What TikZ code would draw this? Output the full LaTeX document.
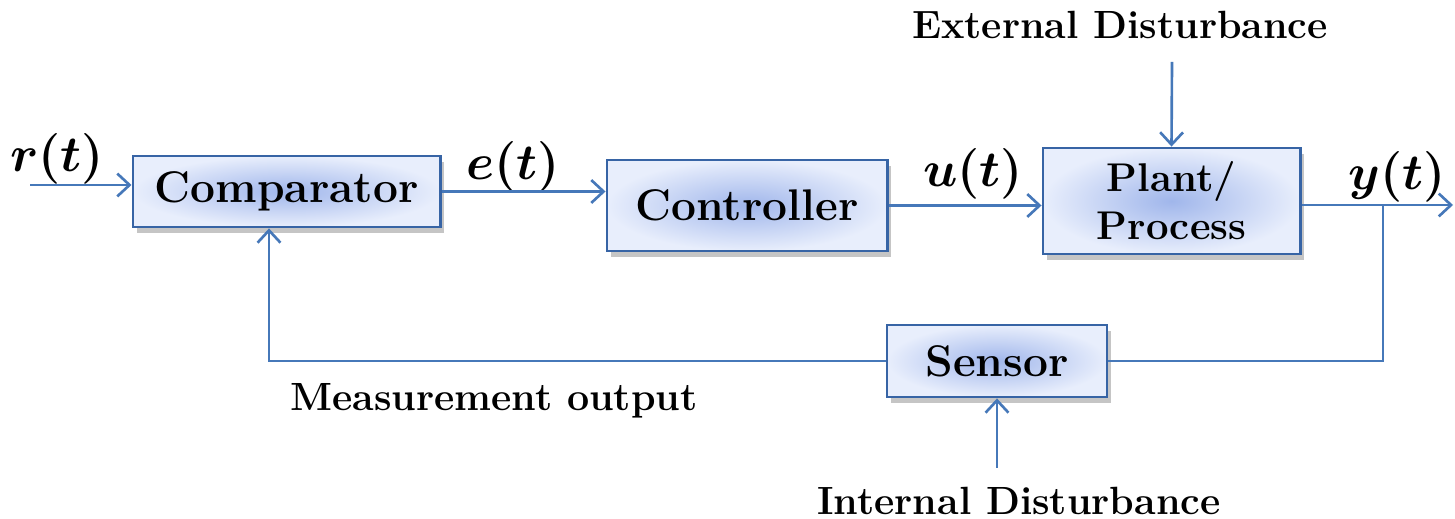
\documentclass[tikz,border=0pt]{standalone}
\usepackage{bm}
\usepackage{tikz}
\usetikzlibrary{shadows,arrows.meta}
\definecolor{lineblue}{RGB}{70,120,185}
\definecolor{boxedge}{RGB}{55,100,165}
\definecolor{boxin}{RGB}{160,182,235}
\definecolor{boxout}{RGB}{232,238,252}
\tikzset{
  blockbox/.style={draw=boxedge, line width=0.8pt, inner sep=0pt, align=center,
    inner color=boxin, outer color=boxout,
    drop shadow={shadow xshift=1.2pt, shadow yshift=-1.6pt, fill=black!45, opacity=0.5},
    font=\bfseries\fontsize{12.6}{14}\selectfont},
  sig/.style={draw=lineblue, line width=0.75pt, -{Straight Barb[length=3.5pt,width=6.5pt]}},
  wire/.style={draw=lineblue, line width=0.75pt},
  lbl/.style={font=\bfseries\fontsize{11.2}{13}\selectfont},
  mathlbl/.style={anchor=base, font=\fontsize{14}{16}\selectfont}
}

\begin{document}
\begin{tikzpicture}[x=0.01cm, y=-0.01cm]
			%%%%% FRAME %%%%%
			\useasboundingbox[fill=white] (0, 0) rectangle (1455, 519);
			
			%%%%% BLOCKS %%%%%
			\node[blockbox, minimum width=3.07cm, minimum height=0.71cm] (comp) at (286.5, 191.5) {Comparator};
			\node[blockbox, minimum width=2.80cm, minimum height=0.91cm] (ctrl) at (747, 205.5) {Controller};
			\node[blockbox, minimum width=2.57cm, minimum height=1.06cm,
			      font=\bfseries\fontsize{11.4}{13.7}\selectfont] (plant) at (1171.5, 201) {Plant/\\Process};
			\node[blockbox, minimum width=2.20cm, minimum height=0.72cm] (sens) at (997, 361) {Sensor};
			
			%%%%% TEXTS %%%%%
			\node[lbl] (extlbl) at (1120, 25) {External Disturbance};
			\node[lbl] (intlbl) at (1019, 501) {Internal Disturbance};
			\node[lbl] (measlbl) at (494, 401) {Measurement output};
			\node[mathlbl] (rlbl) at (57, 172) {$\bm{r(t)}$};
			\node[mathlbl] (elbl) at (513, 180) {$\bm{e(t)}$};
			\node[mathlbl] (ulbl) at (973, 187) {$\bm{u(t)}$};
			\node[mathlbl] (ylbl) at (1397, 190) {$\bm{y(t)}$};
			
			%%%%% CONNECTORS %%%%%
			\coordinate (rin) at (30, 185);
			\coordinate (yend) at (1453, 205);
			\coordinate (branch) at (1383, 205);
			\coordinate (fb) at (269, 361);
			\coordinate (ext) at (1172, 62);
			\coordinate (int) at (997, 468);
			
			\draw[sig] (rin) -- (rin -| comp.west);
			\draw[sig] (comp.east) -- (comp.east -| ctrl.west);
			\draw[sig] (ctrl.east) -- (ctrl.east -| plant.west);
			\draw[sig] (plant.east |- yend) -- (yend);
			\draw[wire] (branch) |- (sens.east);
			\draw[sig] (sens.west) -- (fb) -- (fb |- comp.south);
			\draw[sig] (ext) -- (plant.north);
			\draw[sig] (int) -- (sens.south);
		\end{tikzpicture}
\end{document}
